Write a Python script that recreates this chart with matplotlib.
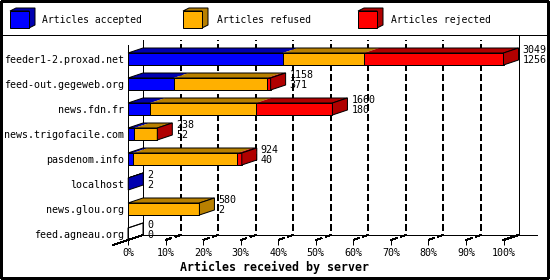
import matplotlib
matplotlib.use("Agg")
import matplotlib.pyplot as plt
from matplotlib.patches import Polygon, Rectangle
import numpy as np

# ---------------------------------------------------------------------------
# Data
# ---------------------------------------------------------------------------
SERVERS = [
    "feeder1-2.proxad.net", "feed-out.gegeweb.org", "news.fdn.fr",
    "news.trigofacile.com", "pasdenom.info", "localhost",
    "news.glou.org", "feed.agneau.org",
]
ACCEPTED = [1256, 371, 180, 52, 40, 2, 2, 0]
REFUSED  = [660, 755, 859, 184, 848, 0, 578, 0]
REJECTED = [1133, 32, 621, 2, 36, 0, 0, 0]

SERIES = ["Articles accepted", "Articles refused", "Articles rejected"]
XTICKS = list(range(0, 101, 10))
XTICK_LABELS = [f"{v}%" for v in XTICKS]
XLABEL = "Articles received by server"

# ---------------------------------------------------------------------------
# Style
# ---------------------------------------------------------------------------
COLORS = ["#0000FF", "#FFB000", "#FF0000"]
DARK   = ["#0000B0", "#B88000", "#B00000"]
MONO   = "DejaVu Sans Mono"

FIG_W, FIG_H, DPI = 550, 280, 100
AX_L, AX_R, AX_T, AX_B = 128, 503.5, 45, 240   # front plane, pixels
ROW_PX, FIRST_ROW_PX = 25, 59
DEPTH_X_PX, DEPTH_Y_PX = 15, 5
BAR_PX = 12
LW = 0.72  # one pixel

fig = plt.figure(figsize=(FIG_W / DPI, FIG_H / DPI), dpi=DPI)

# frame + legend layer, in pixel coordinates
lax = fig.add_axes([0, 0, 1, 1], zorder=-1)
lax.set_xlim(0, FIG_W)
lax.set_ylim(FIG_H, 0)
lax.axis("off")
lax.add_patch(Rectangle((1, 1), FIG_W - 3, FIG_H - 3, fill=False,
                        edgecolor="black", lw=1.0, antialiased=False))
lax.plot([1, FIG_W - 2], [35, 35], color="black", lw=LW, antialiased=False)


def cube(x, y, w, h, d, face, side):
    dxp, dyp = d
    lax.add_patch(Polygon([(x, y), (x + dxp, y - dyp), (x + w + dxp, y - dyp),
                           (x + w + dxp, y + h - dyp), (x + w, y + h), (x + w, y)],
                          closed=True, facecolor=side, edgecolor="black", lw=LW))
    lax.add_patch(Rectangle((x, y), w, h, facecolor=face, edgecolor="black", lw=LW))


for j, (lx, tx) in enumerate([(10, 42), (183, 217), (358, 391)]):
    cube(lx, 11, 19, 17, (6, 3), COLORS[j], DARK[j])
    lax.text(tx, 20, SERIES[j], ha="left", va="center", fontsize=7.0, family=MONO)

# main axes = front plane
ax = fig.add_axes([AX_L / FIG_W, 1 - AX_B / FIG_H,
                   (AX_R - AX_L) / FIG_W, (AX_B - AX_T) / FIG_H])
y_top = (AX_T - FIRST_ROW_PX) / ROW_PX
y_bot = (AX_B - FIRST_ROW_PX) / ROW_PX
ax.set_xlim(0, 100)
ax.set_ylim(y_bot, y_top)
ax.patch.set_visible(False)
for s in ax.spines.values():
    s.set_visible(False)

dx = DEPTH_X_PX * 100 / (AX_R - AX_L)
dy = DEPTH_Y_PX / ROW_PX
h = BAR_PX / ROW_PX
y_frame_top = (36 - FIRST_ROW_PX) / ROW_PX

# back plane and frame lines
line_kw = dict(color="black", lw=LW, clip_on=False, antialiased=False)
ax.plot([dx, dx], [y_top - dy, y_bot - dy], **line_kw)
ax.plot([100 + dx, 100 + dx], [y_frame_top, y_bot - dy], **line_kw)
ax.plot([dx, 100 + 2.2 * dx], [y_bot - dy, y_bot - dy], **line_kw)
ax.plot([0, 0], [y_top, y_bot], **line_kw)
ax.plot([-dx, dx], [y_bot + dy, y_bot - dy], **line_kw)
ax.plot([100, 100 + dx], [y_bot, y_bot - dy], **line_kw)

# dashed gridlines: front tick -> back plane -> top
for v in XTICKS[1:-1]:
    ax.plot([v, v + dx, v + dx], [y_bot, y_bot - dy, y_top - dy],
            color="black", lw=LW, dashes=(6, 4), clip_on=False,
            antialiased=False, zorder=1)

# bars
vals = np.array([ACCEPTED, REFUSED, REJECTED], dtype=float)
totals = vals.sum(axis=0)
pct = vals / totals.max() * 100
ypos = np.arange(len(SERVERS))
left = np.zeros(len(SERVERS))
for j in range(3):
    ax.barh(ypos, pct[j], left=left, height=h, color=COLORS[j],
            edgecolor="black", linewidth=LW, zorder=3, clip_on=False)
    for i in ypos:
        x0, x1 = left[i], left[i] + pct[j][i]
        yt = i - h / 2
        if x1 > x0:
            ax.add_patch(Polygon([(x0, yt), (x1, yt), (x1 + dx, yt - dy),
                                  (x0 + dx, yt - dy)], closed=True,
                                 facecolor=DARK[j], edgecolor="none",
                                 zorder=3, clip_on=False))
    left += pct[j]

for i in ypos:
    end = left[i]
    yt, yb = i - h / 2, i + h / 2
    ax.add_patch(Polygon([(0, yt), (end, yt), (end + dx, yt - dy), (dx, yt - dy)],
                         closed=True, fill=False, edgecolor="black", lw=LW,
                         zorder=4, clip_on=False))
    nz = [j for j in range(3) if vals[j][i] > 0]
    side = DARK[nz[-1]] if nz else "none"
    ax.add_patch(Polygon([(end, yt), (end + dx, yt - dy), (end + dx, yb - dy),
                          (end, yb)], closed=True, facecolor=side,
                         edgecolor="black", lw=LW, zorder=4, clip_on=False))
    ax.annotate(f"{int(totals[i])}\n{ACCEPTED[i]}", xy=(end + dx, i),
                xytext=(4, 4), textcoords="offset pixels", ha="left",
                va="center", fontsize=7.2, family=MONO, linespacing=0.95,
                annotation_clip=False, zorder=5)

ax.set_yticks(ypos, SERVERS, fontsize=7.2, family=MONO)
ax.tick_params(axis="y", length=0, pad=2.9)
ax.set_xticks(XTICKS, XTICK_LABELS, fontsize=7.2, family=MONO)
ax.tick_params(axis="x", length=3.6, width=LW, direction="out", pad=2)

fig.text(0.5, 1 - 267 / FIG_H, XLABEL, ha="center", va="center",
         fontsize=8.4, fontweight="bold", family=MONO)

fig.savefig("out.png", dpi=DPI)
